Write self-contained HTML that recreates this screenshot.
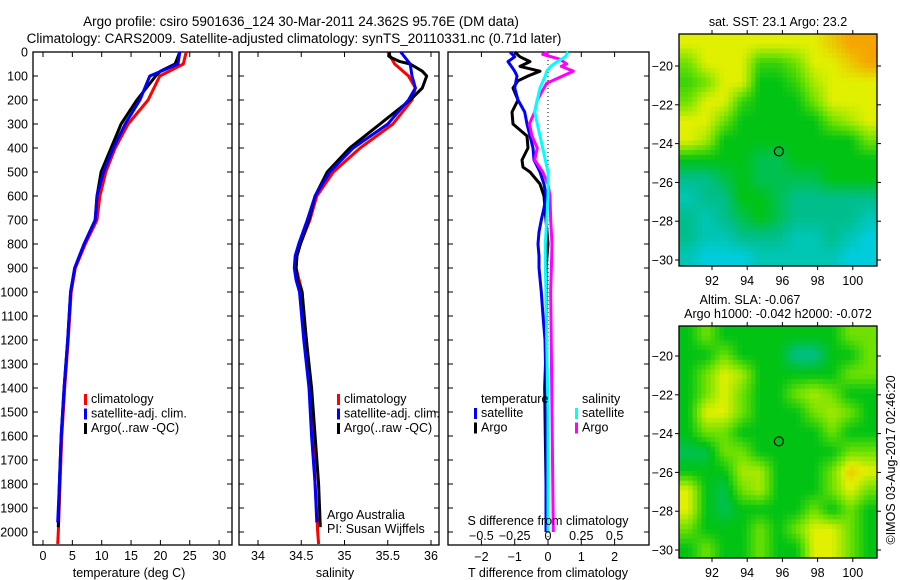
<!DOCTYPE html>
<html><head><meta charset="utf-8">
<style>
html,body{margin:0;padding:0;background:#fff;}
svg{display:block;font-family:"Liberation Sans",sans-serif;}
text{font-size:12.5px;fill:#000;}
</style></head>
<body>
<svg id="fig" width="900" height="580" viewBox="0 0 900 580" xmlns="http://www.w3.org/2000/svg">
<rect width="900" height="580" fill="#fff"/>
<text x="301" y="26" text-anchor="middle" style="font-size:13.5px">Argo profile: csiro 5901636_124 30-Mar-2011 24.362S 95.76E (DM data)</text>
<text x="294" y="43" text-anchor="middle" style="font-size:13.5px">Climatology: CARS2009. Satellite-adjusted climatology: synTS_20110331.nc (0.71d later)</text>
<g id="g"></g>
</svg>
<script>
// ---------- data ----------
const depthTicks=[0,100,200,300,400,500,600,700,800,900,1000,1100,1200,1300,1400,1500,1600,1700,1800,1900,2000];
const tempTicks=[0,5,10,15,20,25,30];
const salTicks=[34,34.5,35,35.5,36];
const tdTicks=[-2,-1,0,1,2];
const sdTicks=[-0.5,-0.25,0,0.25,0.5];
const tempClimDepth=[0,50,100,200,300,400,500,600,700,800,900,1000,1200,1400,1600,1800,2000,2050];
const tempClim=[24.4,23.9,19.9,17.9,14.5,12.3,10.7,9.7,9.2,7.2,5.5,4.8,4.3,3.7,3.2,2.9,2.6,2.5];
const tempSatDepth=[0,50,100,200,300,400,500,600,700,800,900,1000,1200,1400,1600,1800,1960];
const tempSat=[23.3,23.0,18.2,16.5,14.0,12.0,10.3,9.2,8.9,7.0,5.4,4.7,4.2,3.6,3.1,2.8,2.5];
const tempArgoDepth=[0,50,80,100,200,300,400,500,600,700,800,900,1000,1200,1400,1600,1800,1980];
const tempArgo=[23.3,22.5,20.0,19.2,16.0,13.3,11.6,9.9,9.2,8.9,7.0,5.4,4.7,4.2,3.6,3.1,2.8,2.6];
const salClimDepth=[0,50,100,150,200,300,400,500,600,700,800,850,900,1000,1100,1200,1400,1600,1800,2000,2050];
const salClim=[35.5,35.58,35.74,35.82,35.78,35.56,35.18,34.87,34.68,34.6,34.49,34.45,34.44,34.51,34.53,34.56,34.6,34.64,34.66,34.69,34.7];
const salSatDepth=[0,50,100,150,200,300,400,500,600,700,800,850,900,950,1000,1200,1400,1600,1800,1960];
const salSat=[35.65,35.76,35.78,35.82,35.74,35.5,35.1,34.83,34.66,34.57,34.47,34.43,34.42,34.44,34.48,34.53,34.59,34.62,34.66,34.68];
const salArgoDepth=[0,20,40,50,80,100,150,200,300,400,500,600,700,800,850,900,950,1000,1200,1400,1600,1800,1980];
const salArgo=[35.52,35.52,35.64,35.76,35.9,35.95,35.9,35.76,35.41,35.06,34.8,34.66,34.59,34.49,34.45,34.44,34.46,34.51,34.56,34.62,34.66,34.7,34.72];
const tdSatDepth=[0,20,40,60,80,100,150,200,250,300,350,400,450,500,550,600,650,700,750,800,850,900,1000,1100,1200,1400,1600,2000];
const tdSat=[-1.14,-1.0,-1.2,-1.1,-1.0,-0.93,-1.0,-0.9,-0.7,-0.63,-0.54,-0.45,-0.42,-0.24,-0.12,-0.06,-0.12,-0.2,-0.27,-0.3,-0.27,-0.27,-0.2,-0.15,-0.09,-0.06,-0.06,-0.06];
const tdArgoDepth=[0,20,40,60,80,100,120,150,200,250,300,350,400,450,480,500,550,600,700,800,900,1000,1200,1400,1600,1800,2000];
const tdArgo=[-1.0,-0.84,-0.54,-0.84,-0.24,-0.6,-0.9,-1.05,-0.9,-1.08,-1.05,-0.63,-0.6,-0.78,-0.75,-0.54,-0.24,-0.12,-0.06,0.0,-0.06,-0.05,-0.05,-0.1,-0.08,-0.06,-0.06];
const sdSatDepth=[0,20,40,60,80,100,150,200,250,300,350,400,450,500,600,700,800,900,1000,1200,1500,2000];
const sdSat=[0.15,0.13,0.07,0.02,-0.01,-0.02,-0.06,-0.08,-0.1,-0.08,-0.06,-0.04,-0.02,0.0,0.0,-0.01,-0.02,-0.02,-0.015,-0.01,0.0,0.0];
const sdArgoDepth=[0,10,30,50,60,80,100,130,200,250,300,350,400,450,500,550,600,700,800,1000,1500,2000];
const sdArgo=[0.0,-0.04,0.09,0.14,0.1,0.19,0.11,-0.01,-0.08,-0.1,-0.14,-0.12,-0.08,-0.1,-0.04,0.0,0.015,0.02,0.03,0.02,0.03,0.04];
const lonTicks=[92,94,96,98,100];
const latTicks=[-20,-22,-24,-26,-28,-30];
const sstGrid=[
[5,5,5,5,5,5,5,5,5.5,6,6],[4,5,5,5,3.5,3.5,4,5,5,5.5,6],[3.5,4,5,5,3,3,3.5,4.5,5,5,5],[4,5,5,3.5,3,3,3,4,5,5,5],
[5,5,4,3,3,3,3,3,4,4.5,5],[5,4.5,3,3,3,3,3,3,3,3,4],[3,3,3,3,2.5,2.5,3,3,3,3,3],[2,2,2.5,3,2.5,2.5,2.5,2.5,3,3,3],
[1.5,2,2,3,3,2.5,2,2,2,2,2],[2,1.5,2,2.5,3,2.5,2,2,2,2,1.5],[2,1.5,1.5,2,2,2,1.5,1.5,2,1.5,1],[1.5,1,1,1,1.5,1.5,1.5,1.5,1.5,1,1]];
const slaGrid=[
[3,4,3,3,3,3,3,3,3,4,4],[3,3,4,3,3,3,2,2,3,3,4],[3,4,5,4.5,3,3,3,3,3,4,4],[3,4,5,4,3,3,4,4.5,4,3,3],
[3,5,5,4,3,3,3,4,4.5,4,3],[3,4,4,3,3,3,3,3,4,3,3],[2.5,2.5,4,4,3,3,3,3,3,4,4],[3,3,3,4.5,4.5,3,3,3,4,5.5,5],
[5,3,2.5,4,4.5,3,3,3,4,5,4],[5,3,2.5,3,3,3,3,4,3,4,3],[4,3,3,3,4,3,4,5,5,4,3],[3,4,3,3,4,3,3,5,5,4,3]];
const argoLon=95.8, argoLat=-24.4;

// ---------- helpers ----------
const NS="http://www.w3.org/2000/svg";
const G=document.getElementById('g');
function mk(tag,attrs,parent){const e=document.createElementNS(NS,tag);for(const k in attrs)e.setAttribute(k,attrs[k]);(parent||G).appendChild(e);return e;}
function txt(x,y,s,anchor,parent){const t=mk('text',{x:x,y:y,'text-anchor':anchor||'start'},parent);t.textContent=s;return t;}
const yD=d=>52+d*0.24;
const xT=t=>43+t*5.87;
const xS=s=>258+(s-34)*86.5;
const xTD=v=>548+v*33.3;
const xSD=v=>548+v*133.2;
const BOT=545;

function panel(x0,x1,name){
  const r=mk('rect',{x:x0,y:52,width:x1-x0,height:BOT-52,fill:'none',stroke:'#000','stroke-width':1.3});
  
  
  depthTicks.forEach(d=>{mk('line',{x1:x0,x2:x0+5,y1:yD(d),y2:yD(d),stroke:'#000'});mk('line',{x1:x1,x2:x1-5,y1:yD(d),y2:yD(d),stroke:'#000'});});
}
function xticks(vals,fx,labelY,top){
  vals.forEach(v=>{const x=fx(v);mk('line',{x1:x,x2:x,y1:BOT,y2:BOT-5,stroke:'#000'});if(top)mk('line',{x1:x,x2:x,y1:52,y2:57,stroke:'#000'});
    const t=txt(x,labelY,String(v).replace('-','\u2212'),'middle');});
}
function line(xs,ds,fx,color,name){
  const pts=xs.map((v,i)=>fx(v).toFixed(1)+','+yD(ds[i]).toFixed(1)).join(' ');
  const p=mk('polyline',{points:pts,fill:'none',stroke:color,'stroke-width':3,'stroke-linejoin':'round'});
  
  
}
function legend(x,y,items){
  items.forEach((it,i)=>{mk('rect',{x:x,y:y+i*14.5-9,width:3,height:11,fill:it[0]});const t=txt(x+7,y+i*14.5,it[1]);});
}

depthTicks.forEach(d=>{const t=txt(28,yD(d)+4.5,String(d),'end');});

panel(33,232,'temperature-panel');
xticks(tempTicks,xT,560,true);
line(tempClim,tempClimDepth,xT,'#f00','temp-climatology-line');
line(tempArgo,tempArgoDepth,xT,'#000','temp-argo-line');
line(tempSat,tempSatDepth,xT,'#00f','temp-satellite-line');
{const t=txt(129,577,'temperature (deg C)','middle');}
legend(84,403,[['#f00','climatology'],['#00f','satellite-adj. clim.'],['#000','Argo(..raw -QC)']]);

panel(239,439,'salinity-panel');
xticks(salTicks,xS,560,true);
line(salClim,salClimDepth,xS,'#f00','sal-climatology-line');
line(salArgo,salArgoDepth,xS,'#000','sal-argo-line');
line(salSat,salSatDepth,xS,'#00f','sal-satellite-line');
{const t=txt(335,577,'salinity','middle');}
legend(337,403,[['#f00','climatology'],['#00f','satellite-adj. clim.'],['#000','Argo(..raw -QC)']]);
txt(327,519,'Argo Australia');
txt(327,533,'PI: Susan Wijffels');

panel(448,649,'difference-panel');
tdTicks.forEach(v=>{const x=xTD(v);mk('line',{x1:x,x2:x,y1:BOT,y2:BOT-5,stroke:'#000'});mk('line',{x1:x,x2:x,y1:52,y2:57,stroke:'#000'});const t=txt(x,561,String(v).replace('-','\u2212'),'middle');});
mk('line',{x1:xTD(0),x2:xTD(0),y1:yD(0),y2:yD(2050),stroke:'#000','stroke-dasharray':'1,3'});
line(tdArgo,tdArgoDepth,xTD,'#000','tdiff-argo-line');
line(tdSat,tdSatDepth,xTD,'#00f','tdiff-satellite-line');
line(sdArgo,sdArgoDepth,xSD,'#f0f','sdiff-argo-line');
line(sdSat,sdSatDepth,xSD,'#0ff','sdiff-satellite-line');
sdTicks.forEach(v=>{const t=txt(xSD(v),540,String(v).replace('-','\u2212'),'middle');});
{const t=txt(548,525,'S difference from climatology','middle');}
{const t=txt(548,577,'T difference from climatology','middle');}
txt(481,403,'temperature');
txt(582,403,'salinity');
legend(474,417,[['#00f','satellite'],['#000','Argo']]);
legend(575,417,[['#0ff','satellite'],['#f0f','Argo']]);

// continuous palette: 0 blue,1 cyan,2 teal,3 green,4 light green,5 yellow,6 orange
const palRGB=[[30,140,255],[0,205,220],[0,190,140],[0,195,20],[110,225,0],[225,240,0],[245,165,0]];
function col(v){v=Math.max(0,Math.min(6,v));const i=Math.min(5,Math.floor(v)),f=v-i,a=palRGB[i],b=palRGB[i+1];
  return 'rgb('+a.map((c,k)=>Math.round(c+(b[k]-c)*f)).join(',')+')';}
function map(y0,grid,name,lat20y){
  const x0=679,x1=877,y1=y0+232;
  const g=mk('g',{});
  
  
  const rows=grid.length,cols=grid[0].length,S=4,nc=cols*S,nr=rows*S,cw=(x1-x0)/nc,ch=(y1-y0)/nr;
  for(let r=0;r<nr;r++)for(let c=0;c<nc;c++){
    const gy=Math.max(0,Math.min(rows-1,(r+0.5)/S-0.5)),gx=Math.max(0,Math.min(cols-1,(c+0.5)/S-0.5));
    const iy=Math.min(rows-2,Math.floor(gy)),ix=Math.min(cols-2,Math.floor(gx)),fy=gy-iy,fx=gx-ix;
    const v=grid[iy][ix]*(1-fx)*(1-fy)+grid[iy][ix+1]*fx*(1-fy)+grid[iy+1][ix]*(1-fx)*fy+grid[iy+1][ix+1]*fx*fy;
    mk('rect',{x:(x0+c*cw).toFixed(2),y:(y0+r*ch).toFixed(2),width:(cw+0.5).toFixed(2),height:(ch+0.5).toFixed(2),fill:col(v)},g);
  }
  mk('rect',{x:x0,y:y0,width:x1-x0,height:y1-y0,fill:'none',stroke:'#000','stroke-width':1.3},g);
  const xL=lon=>712+(lon-92)*17.6, yL=lat=>lat20y+(-20-lat)*19.4;
  lonTicks.forEach(l=>{const x=xL(l);mk('line',{x1:x,x2:x,y1:y0,y2:y0-4,stroke:'#000'},g);mk('line',{x1:x,x2:x,y1:y1,y2:y1+4,stroke:'#000'},g);const t=txt(x,y1+19,String(l),'middle',g);});
  latTicks.forEach(l=>{const y=yL(l);mk('line',{x1:x0,x2:x0-4,y1:y,y2:y,stroke:'#000'},g);mk('line',{x1:x1,x2:x1+4,y1:y,y2:y,stroke:'#000'},g);const t=txt(x0-6,y+4.5,String(l).replace('-','\u2212'),'end',g);});
  const c=mk('circle',{cx:xL(argoLon),cy:yL(argoLat),r:4.5,fill:'none',stroke:'#000','stroke-width':1.2},g);
  
  
}
map(34,sstGrid,'sst-map',66);
map(326,slaGrid,'sla-map',356);
{const t=txt(778,26,'sat. SST: 23.1  Argo: 23.2','middle');}
{const t=txt(750,304,'Altim. SLA: -0.067','middle');}
{const t=txt(778,318,'Argo h1000: -0.042 h2000: -0.072','middle');}
{const t=txt(0,0,'©IMOS 03-Aug-2017 02:46:20','middle');t.setAttribute('transform','translate(895,460) rotate(-90)');}
</script>
</body></html>
